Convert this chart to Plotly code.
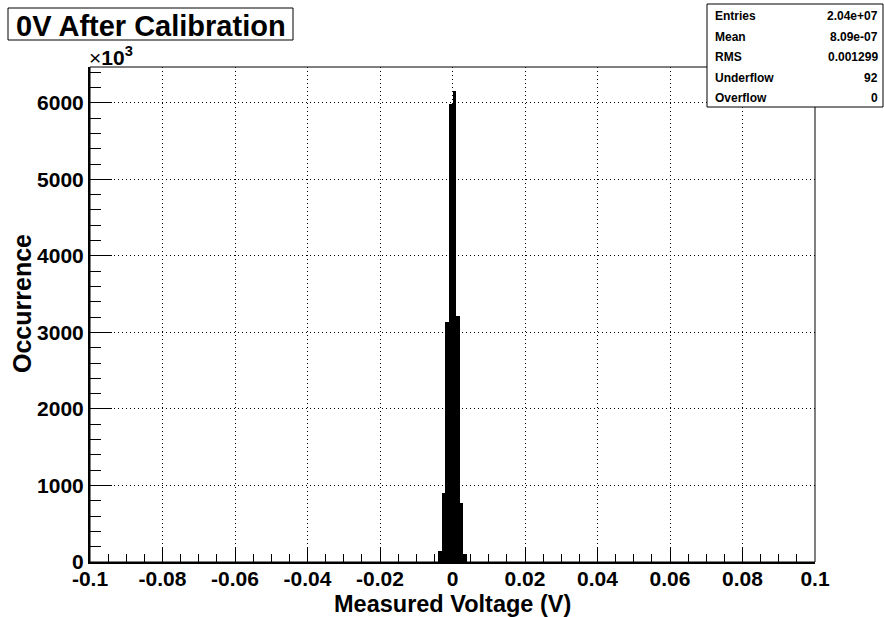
import plotly.graph_objects as go

# ---- data (counts in units of 10^3) ----
bin_centers = [-0.0035, -0.0025, -0.0015, -0.0005, 0.0005, 0.0015, 0.0025, 0.0035]
counts_k = [150, 905, 3140, 5985, 6160, 3215, 775, 110]
bin_width = 0.001

x_tickvals = [-0.1, -0.08, -0.06, -0.04, -0.02, 0, 0.02, 0.04, 0.06, 0.08, 0.1]
x_ticktext = ["-0.1", "-0.08", "-0.06", "-0.04", "-0.02", "0", "0.02", "0.04", "0.06", "0.08", "0.1"]
y_tickvals = [0, 1000, 2000, 3000, 4000, 5000, 6000]
y_ticktext = ["0", "1000", "2000", "3000", "4000", "5000", "6000"]

stats_labels = ["Entries", "Mean", "RMS", "Underflow", "Overflow"]
stats_values = ["2.04e+07", "8.09e-07", "0.001299", "92", "0"]

title_text = "0V After Calibration"
x_title = "Measured Voltage (V)"
y_title = "Occurrence"

# ---- geometry (pixels) ----
W, H = 884, 617
L, R, T, B = 90, 815, 67, 562
PW, PH = R - L, B - T


def px(xp):
    return (xp - L) / PW


def py(yp):
    return (B - yp) / PH


FONT = "Liberation Sans, Arial, Helvetica, sans-serif"

fig = go.Figure()
fig.add_trace(go.Bar(
    x=bin_centers, y=counts_k, width=[bin_width] * len(bin_centers),
    marker=dict(color="black", line=dict(width=0)),
    hoverinfo="x+y", showlegend=False,
))

axis_common = dict(
    showline=True, linecolor="black", linewidth=2,
    ticks="inside", tickcolor="black",
    showgrid=True, gridcolor="black", griddash="1px,3px", gridwidth=1,
    zeroline=False,
    tickfont=dict(family=FONT, size=21, color="black", weight="bold"),
)

fig.update_layout(
    width=W, height=H,
    margin=dict(l=L, r=W - R, t=T, b=H - B, pad=0),
    paper_bgcolor="white", plot_bgcolor="white",
    bargap=0,
    xaxis=dict(
        range=[-0.1, 0.1], tickmode="array", tickvals=x_tickvals, ticktext=x_ticktext,
        ticklen=15, tickwidth=1, ticklabelstandoff=-3,
        minor=dict(ticks="inside", ticklen=8, dtick=0.005, tick0=-0.1, tickcolor="black", showgrid=False),
        **axis_common,
    ),
    yaxis=dict(
        range=[0, 6468], tickmode="array", tickvals=y_tickvals, ticktext=y_ticktext,
        ticklen=22, tickwidth=1,
        minor=dict(ticks="inside", ticklen=11, dtick=200, tick0=0, tickcolor="black", showgrid=False),
        **axis_common,
    ),
)

shapes = [
    # frame (top/right)
    dict(type="rect", xref="paper", yref="paper", x0=0, x1=1, y0=0, y1=1,
         line=dict(color="black", width=1), fillcolor="rgba(0,0,0,0)", layer="above"),
    # title box
    dict(type="rect", xref="paper", yref="paper", x0=px(8), x1=px(293), y0=py(40), y1=py(8),
         line=dict(color="black", width=1), fillcolor="white"),
    # stats box
    dict(type="rect", xref="paper", yref="paper", x0=px(707), x1=px(883), y0=py(107), y1=py(4),
         line=dict(color="black", width=1), fillcolor="white", layer="above"),
]
fig.update_layout(shapes=shapes)

ann = []
ann.append(dict(text=title_text, xref="paper", yref="paper", x=px(151), y=py(26),
                xanchor="center", yanchor="middle", showarrow=False,
                font=dict(family=FONT, size=29, color="black", weight="bold")))
ann.append(dict(text="<span style='font-weight:normal'>×</span>10<sup>3</sup>", xref="paper", yref="paper",
                x=px(87), y=py(71),
                xanchor="left", yanchor="bottom", showarrow=False,
                font=dict(family=FONT, size=21, color="black", weight="bold")))
ann.append(dict(text=x_title, xref="paper", yref="paper", x=px(452.5), y=py(604),
                xanchor="center", yanchor="middle", showarrow=False,
                font=dict(family=FONT, size=23.5, color="black", weight="bold")))
ann.append(dict(text=y_title, xref="paper", yref="paper", x=px(22), y=py(304),
                xanchor="center", yanchor="middle", showarrow=False, textangle=-90,
                font=dict(family=FONT, size=25, color="black", weight="bold")))
row_y = [16.5, 37, 57.5, 78, 98]
for lab, val, ry in zip(stats_labels, stats_values, row_y):
    ann.append(dict(text=lab, xref="paper", yref="paper", x=px(713), y=py(ry),
                    xanchor="left", yanchor="middle", showarrow=False,
                    font=dict(family=FONT, size=12, color="black", weight="bold")))
    ann.append(dict(text=val, xref="paper", yref="paper", x=px(880), y=py(ry),
                    xanchor="right", yanchor="middle", showarrow=False,
                    font=dict(family=FONT, size=12, color="black", weight="bold")))
fig.update_layout(annotations=ann)

fig.write_html("out.html")
